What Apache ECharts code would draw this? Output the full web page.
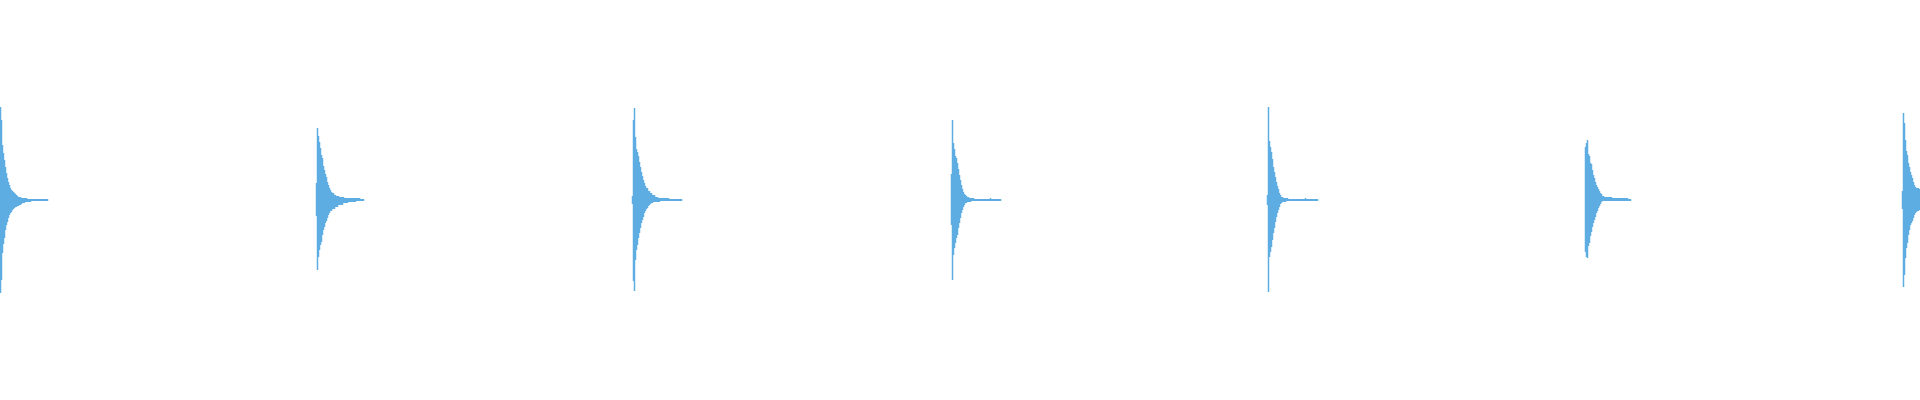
<!DOCTYPE html>
<html>
<head>
<meta charset="utf-8">
<title>waveform</title>
<script src="https://cdn.jsdelivr.net/npm/echarts@6/dist/echarts.min.js"></script>
<style>
    html, body { margin: 0; padding: 0; background: #fff; }
    #chart { width: 1920px; height: 400px; }
</style>
</head>
<body>
<div id="chart"></div>
<script>
// pulse start positions (sample index), one entry per click
var pulseStarts = [0, 316, 632, 951, 1267, 1585, 1902];

// peak envelope of each pulse: upper = max, lower = |min|, one value per sample
var upper1 = [93, 80, 55, 47, 40, 33, 27, 22, 18, 15, 12, 10, 9, 8, 7, 6, 5, 4, 3, 3, 3, 2, 2, 2, 2, 2, 2, 1, 1, 1, 1, 1, 1, 1, 1, 1, 1, 1, 1, 1, 1, 1, 1, 1, 1, 1, 1, 1];
var lower1 = [93, 80, 53, 44, 38, 30, 25, 22, 18, 15, 13, 12, 10, 9, 8, 7, 7, 6, 6, 5, 5, 4, 3, 3, 3, 2, 2, 2, 2, 2, 2, 1, 1, 1, 1, 1, 1, 1, 1, 1, 1, 1, 1, 1, 1, 1, 1, 1];

var upper2 = [17, 72, 64, 58, 52, 45, 42, 34, 30, 26, 23, 18, 15, 12, 10, 8, 7, 7, 5, 5, 4, 4, 4, 3, 3, 3, 3, 3, 2, 2, 2, 2, 2, 2, 2, 2, 2, 2, 2, 2, 2, 2, 2, 2, 1, 1, 1, 1];
var lower2 = [16, 70, 57, 50, 45, 42, 35, 30, 27, 23, 21, 18, 15, 13, 11, 11, 9, 9, 9, 7, 7, 7, 5, 5, 5, 5, 5, 3, 3, 3, 3, 3, 2, 2, 2, 2, 2, 2, 2, 2, 1, 1, 1, 1, 1, 1, 1, 1];

var upper3 = [4, 80, 92, 63, 51, 48, 44, 38, 33, 28, 24, 20, 17, 14, 12, 12, 9, 9, 7, 7, 5, 5, 5, 3, 3, 3, 2, 2, 2, 2, 2, 2, 2, 2, 2, 2, 2, 1, 1, 1, 1, 1, 1, 1, 1, 1, 1, 1, 1, 1];
var lower3 = [4, 81, 91, 60, 50, 45, 38, 33, 28, 23, 20, 17, 13, 11, 9, 8, 6, 5, 4, 3, 3, 2, 2, 2, 2, 2, 2, 2, 1, 1, 1, 1, 1, 1, 1, 1, 1, 1, 1, 1, 1, 1, 1, 1, 1, 1, 1, 1, 1, 1];

var upper4 = [26, 80, 57, 51, 44, 42, 37, 31, 25, 20, 15, 11, 8, 6, 5, 4, 3, 3, 2, 2, 2, 2, 2, 1, 1, 1, 1, 1, 1, 1, 1, 1, 1, 1, 1, 1, 1, 1, 1, 2, 1, 1, 1, 1, 1, 1, 1, 1, 1, 1];
var lower4 = [25, 80, 55, 48, 43, 38, 35, 28, 23, 18, 13, 10, 7, 5, 3, 3, 2, 2, 2, 2, 1, 1, 1, 1, 1, 1, 1, 1, 1, 1, 1, 1, 1, 1, 1, 1, 1, 1, 1, 1, 1, 1, 1, 1, 1, 1, 1, 1, 1, 1];

var upper5 = [5, 93, 59, 53, 48, 41, 33, 28, 23, 18, 14, 11, 7, 5, 3, 3, 2, 2, 2, 2, 2, 1, 1, 1, 1, 1, 1, 1, 1, 1, 1, 1, 1, 1, 1, 1, 1, 1, 2, 1, 1, 1, 1, 1, 1, 1, 1, 1, 1, 1, 1];
var lower5 = [5, 92, 57, 52, 47, 40, 33, 28, 22, 17, 13, 10, 7, 4, 3, 2, 2, 2, 2, 1, 1, 1, 1, 1, 1, 1, 1, 1, 1, 1, 1, 1, 1, 1, 1, 1, 1, 1, 1, 1, 1, 1, 1, 1, 1, 1, 1, 1, 1, 1, 1];

var upper6 = [53, 57, 60, 46, 44, 37, 36, 30, 25, 22, 18, 15, 13, 11, 9, 7, 6, 4, 4, 3, 3, 3, 3, 3, 3, 3, 3, 2, 2, 2, 2, 2, 2, 2, 2, 2, 2, 2, 2, 2, 2, 2, 2, 1, 1, 1];
var lower6 = [52, 57, 58, 46, 43, 36, 32, 27, 23, 20, 17, 13, 11, 8, 6, 4, 2, 1, 1, 1, 1, 1, 1, 1, 1, 1, 1, 1, 1, 1, 1, 1, 1, 1, 1, 1, 1, 1, 1, 1, 1, 1, 1, 1, 1, 1];

var upper7 = [9, 87, 77, 60, 49, 45, 37, 33, 28, 25, 22, 18, 15, 13, 12, 12, 12, 11];
var lower7 = [9, 87, 75, 58, 48, 43, 35, 30, 25, 23, 21, 18, 15, 13, 12, 11, 11, 10];

var uppers = [upper1, upper2, upper3, upper4, upper5, upper6, upper7];
var lowers = [lower1, lower2, lower3, lower4, lower5, lower6, lower7];

var maxData = [];
var minData = [];
pulseStarts.forEach(function (start, p) {
    uppers[p].forEach(function (v, i) {
        maxData.push([start + i + 0.5, v]);
    });
    lowers[p].forEach(function (v, i) {
        minData.push([start + i + 0.5, -v]);
    });
});

var waveColor = '#5dade2';

var option = {
    animation: false,
    grid: { left: 0, right: 0, top: 0, bottom: 0 },
    xAxis: {
        type: 'value',
        min: 0,
        max: 1920,
        show: false
    },
    yAxis: {
        type: 'value',
        min: -200,
        max: 200,
        show: false
    },
    series: [{
        type: 'bar',
        stack: 'wave',
        barWidth: 1.5,   // a bit wider than one sample so neighbours overlap, no gaps
        itemStyle: { color: waveColor },
        data: maxData
    }, {
        type: 'bar',
        stack: 'wave',
        barWidth: 1.5,
        itemStyle: { color: waveColor },
        data: minData
    }]
};

var chart = echarts.init(document.getElementById('chart'));
chart.setOption(option);
</script>
</body>
</html>
